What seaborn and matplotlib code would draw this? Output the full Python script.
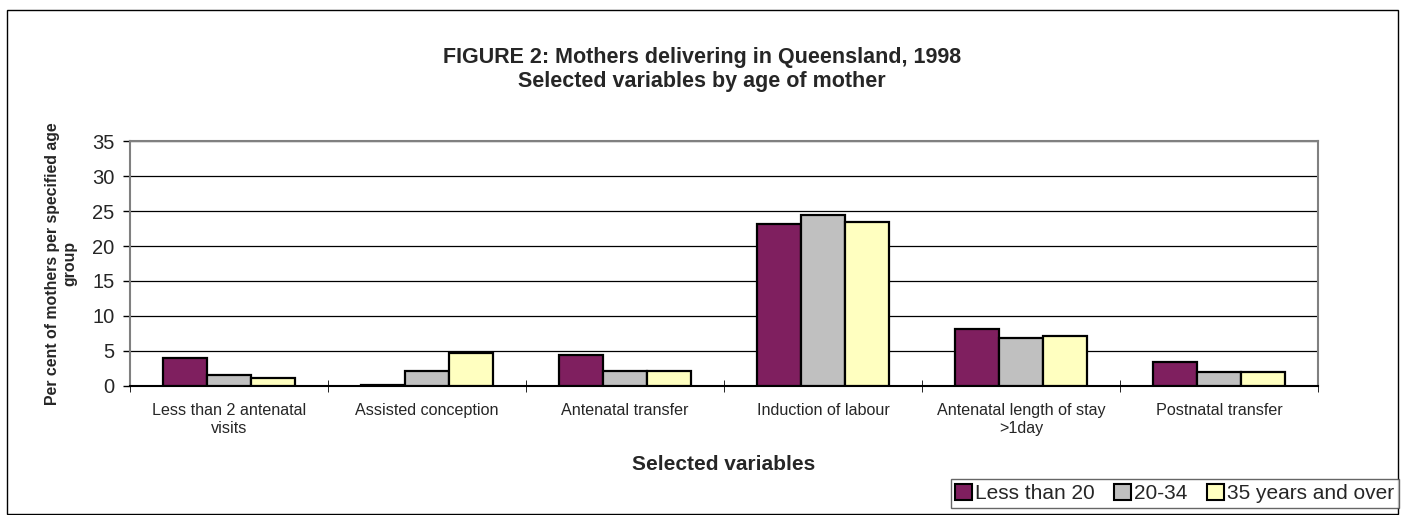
import pandas as pd
import numpy as np
import matplotlib
matplotlib.use("Agg")
import matplotlib.pyplot as plt
from matplotlib.patches import Patch, Rectangle
import seaborn as sns

# dados
variaveis = ["Less than 2 antenatal\nvisits", "Assisted conception", "Antenatal transfer",
             "Induction of labour", "Antenatal length of stay\n>1day", "Postnatal transfer"]
grupos = ["Less than 20", "20-34", "35 years and over"]
menos_20 = [4.0, 0.1, 4.4, 23.1, 8.2, 3.4]
de_20_34 = [1.5, 2.1, 2.2, 24.4, 6.9, 2.0]
mais_35 = [1.1, 4.7, 2.2, 23.5, 7.2, 2.0]
cores = ["#7F1F5F", "#C0C0C0", "#FFFFC0"]

df = pd.DataFrame({
    "variavel": variaveis * 3,
    "grupo": np.repeat(grupos, len(variaveis)),
    "valor": menos_20 + de_20_34 + mais_35,
})

sns.set_style("white")
plt.rcParams['font.family'] = ['Liberation Sans', 'DejaVu Sans']

fig = plt.figure(figsize=(14.01, 5.15), dpi=100)
ax = fig.add_axes([0.0928, 0.2505, 0.848, 0.4757])

sns.barplot(data=df, x="variavel", y="valor", hue="grupo", order=variaveis,
            hue_order=grupos, palette=cores, saturation=1, width=0.667, gap=0,
            edgecolor="black", linewidth=1.6, errorbar=None, legend=False, ax=ax, zorder=3)

ax.set_ylim(0, 35)
ax.set_xlim(-0.5, 5.5)
ax.set_yticks(range(0, 36, 5))
ax.tick_params(axis='y', labelsize=14.5, length=5, width=1, color='black', direction='out', left=True, pad=6)
ax.yaxis.grid(True, color='black', linewidth=0.9, zorder=0)
ax.set_axisbelow(True)

ax.set_xticks(range(len(variaveis)))
ax.set_xticklabels(variaveis, fontsize=11.6)
ax.tick_params(axis='x', length=0, pad=12.5)
ax.set_xticks(np.arange(-0.5, 6, 1), minor=True)
ax.tick_params(axis='x', which='minor', length=9, direction='inout', color='black', bottom=True)

for lado in ['top', 'right', 'left']:
    ax.spines[lado].set_color('#808080')
    ax.spines[lado].set_linewidth(1.5)
ax.spines['bottom'].set_color('black')
ax.spines['bottom'].set_linewidth(1.5)

ax.set_xlabel("Selected variables", fontsize=15, fontweight='bold')
ax.xaxis.label.set_va('center')
ax.xaxis.set_label_coords(0.5, -0.322)
ax.set_ylabel("Per cent of mothers per specified age\ngroup", fontsize=11.4, fontweight='bold')
ax.yaxis.label.set_va('center')
ax.yaxis.set_label_coords(-0.058, 0.5)

fig.text(0.501, 0.865, "FIGURE 2: Mothers delivering in Queensland, 1998\nSelected variables by age of mother",
         ha='center', va='center', fontsize=15.5, fontweight='bold', linespacing=1.2)

handles = [Patch(facecolor=c, edgecolor='black', linewidth=1.5) for c in cores]
leg = fig.legend(handles, grupos, loc='lower right', bbox_to_anchor=(0.9985, 0.014), ncol=3,
                 fontsize=15, frameon=True, fancybox=False, handlelength=0.8, handleheight=0.8,
                 handletextpad=0.15, columnspacing=0.95, borderpad=0.22, borderaxespad=0)
leg.get_frame().set_edgecolor('#404040')
leg.get_frame().set_linewidth(1)

fig.patches.append(Rectangle((0.005, 0.002), 0.993, 0.978, transform=fig.transFigure,
                             fill=False, edgecolor='black', linewidth=1))

fig.savefig("out.png", dpi=100)
